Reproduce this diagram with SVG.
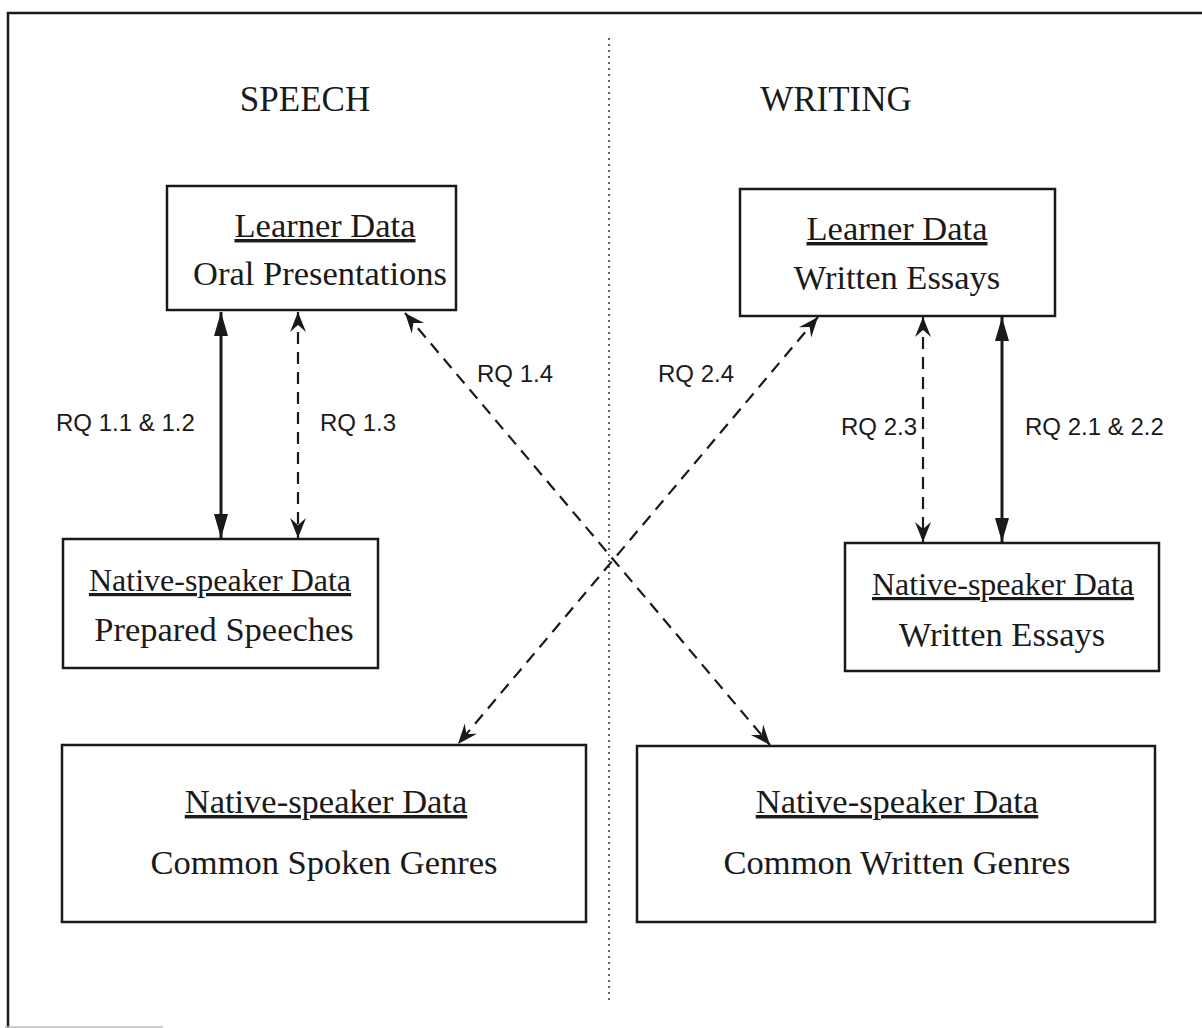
<svg xmlns="http://www.w3.org/2000/svg" width="1202" height="1028" viewBox="0 0 1202 1028">
  <style>
    .frame { fill: none; stroke: #1a1a1a; stroke-width: 2.5; }
    .box { fill: #ffffff; stroke: #1a1a1a; stroke-width: 2.5; }
    .head { font-family: "Liberation Serif", "Times New Roman", serif; font-size: 35px; fill: #1a1a1a; text-anchor: middle; }
    .title { font-family: "Liberation Serif", "Times New Roman", serif; font-size: 34.5px; fill: #1a1a1a; text-anchor: middle; }
    .small { font-size: 32px; }
    .ul { text-decoration: underline; }
    .rq { font-family: "Liberation Sans", Arial, sans-serif; font-size: 24px; fill: #1a1a1a; }
    .solid { stroke: #1a1a1a; stroke-width: 3; fill: none; }
    .dash { stroke: #1a1a1a; stroke-width: 2.2; fill: none; stroke-dasharray: 12 8; }
    .divider { stroke: #333; stroke-width: 1.5; stroke-dasharray: 2 4; }
  </style>
  <defs>
    <marker id="fillHead" viewBox="-26 -9 28 18" markerWidth="28" markerHeight="18" refX="0" refY="0" orient="auto-start-reverse" markerUnits="userSpaceOnUse">
      <path d="M0,0 L-24,-7 L-24,7 Z" fill="#1a1a1a"/>
    </marker>
    <marker id="barbHead" viewBox="-22 -9 24 18" markerWidth="24" markerHeight="18" refX="0" refY="0" orient="auto-start-reverse" markerUnits="userSpaceOnUse">
      <path d="M0,0 L-20,-8 L-13,0 L-20,8 Z" fill="#1a1a1a"/>
    </marker>
  </defs>

  <rect width="1202" height="1028" fill="#ffffff"/>

  <!-- page frame -->
  <path class="frame" d="M8,1028 L8,13 L1202,13"/>
  <line x1="5" y1="1027" x2="163" y2="1027" stroke="#bbbbbb" stroke-width="1.5"/>

  <!-- speech / writing divider -->
  <line class="divider" x1="609" y1="38" x2="609" y2="1003"/>

  <text class="head" x="305" y="111">SPEECH</text>
  <text class="head" x="836" y="111">WRITING</text>

  <g id="connectors">
    <line class="solid" x1="221" y1="312" x2="221" y2="538" marker-start="url(#fillHead)" marker-end="url(#fillHead)"/>
    <line class="dash" x1="298" y1="312" x2="298" y2="538" marker-start="url(#barbHead)" marker-end="url(#barbHead)"/>
    <line class="dash" x1="405" y1="313" x2="770" y2="745" marker-start="url(#barbHead)" marker-end="url(#barbHead)"/>
    <line class="dash" x1="818" y1="317" x2="458" y2="744" marker-start="url(#barbHead)" marker-end="url(#barbHead)"/>
    <line class="dash" x1="923" y1="317" x2="923" y2="542" marker-start="url(#barbHead)" marker-end="url(#barbHead)"/>
    <line class="solid" x1="1002" y1="317" x2="1002" y2="542" marker-start="url(#fillHead)" marker-end="url(#fillHead)"/>
    <text class="rq" x="56" y="431">RQ 1.1 &amp; 1.2</text>
    <text class="rq" x="320" y="431">RQ 1.3</text>
    <text class="rq" x="477" y="382">RQ 1.4</text>
    <text class="rq" x="658" y="382">RQ 2.4</text>
    <text class="rq" x="841" y="435">RQ 2.3</text>
    <text class="rq" x="1025" y="435">RQ 2.1 &amp; 2.2</text>
  </g>

  <g id="learner-oral">
    <rect class="box" x="167" y="186" width="289" height="124"/>
    <text class="title ul" x="325" y="237">Learner Data</text>
    <text class="title" x="320" y="285">Oral Presentations</text>
  </g>

  <g id="learner-written">
    <rect class="box" x="740" y="189" width="315" height="127"/>
    <text class="title ul" x="897" y="240">Learner Data</text>
    <text class="title" x="897" y="289">Written Essays</text>
  </g>

  <g id="ns-prepared">
    <rect class="box" x="63" y="539" width="315" height="129"/>
    <text class="title small ul" x="220" y="591">Native-speaker Data</text>
    <text class="title" x="224" y="641">Prepared Speeches</text>
  </g>

  <g id="ns-written">
    <rect class="box" x="845" y="543" width="314" height="128"/>
    <text class="title small ul" x="1003" y="595">Native-speaker Data</text>
    <text class="title" x="1002" y="646">Written Essays</text>
  </g>

  <g id="ns-spoken-genres">
    <rect class="box" x="62" y="745" width="524" height="177"/>
    <text class="title ul" x="326" y="813">Native-speaker Data</text>
    <text class="title" x="324" y="874">Common Spoken Genres</text>
  </g>

  <g id="ns-written-genres">
    <rect class="box" x="637" y="746" width="518" height="176"/>
    <text class="title ul" x="897" y="813">Native-speaker Data</text>
    <text class="title" x="897" y="874">Common Written Genres</text>
  </g>
</svg>
